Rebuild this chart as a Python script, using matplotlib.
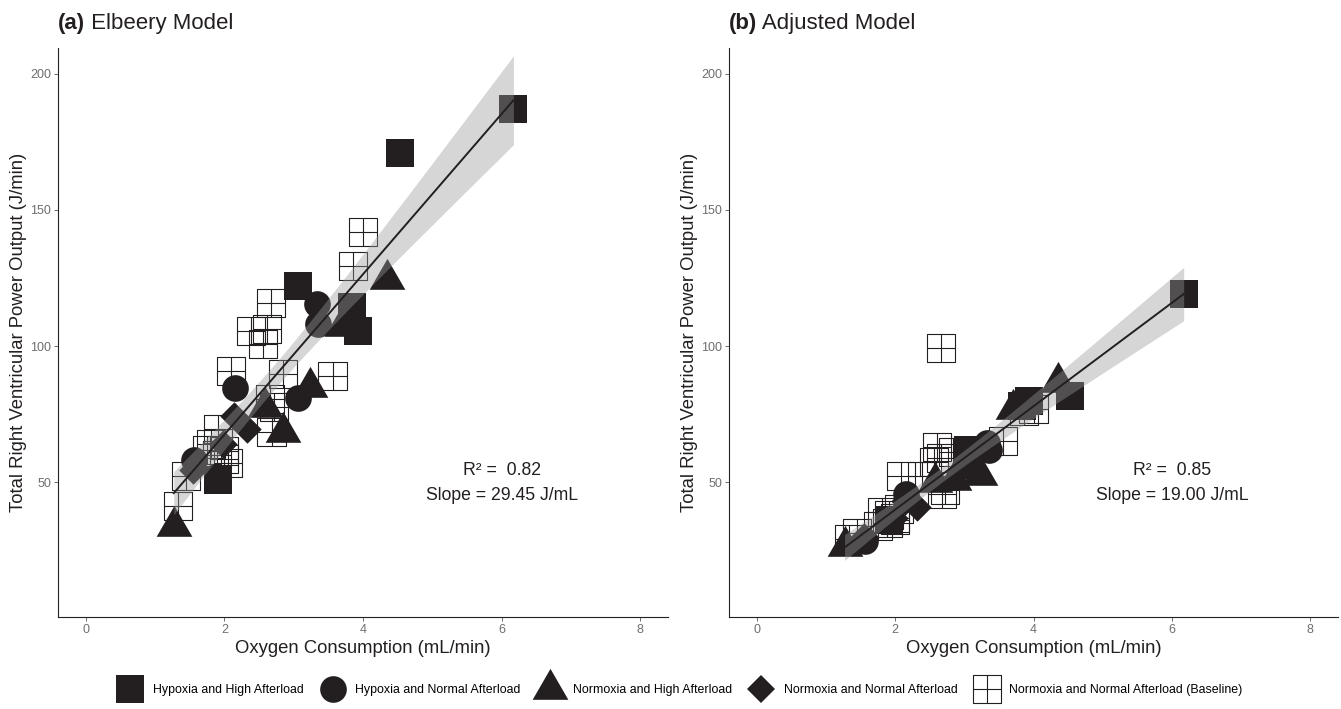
import numpy as np
import matplotlib
matplotlib.use("Agg")
import matplotlib.pyplot as plt
from matplotlib.path import Path
from matplotlib.lines import Line2D

plt.rcParams['font.family'] = ['Liberation Sans', 'DejaVu Sans']

# oxygen consumption (mL/min) and RV power output (J/min) per condition,
# *_elb = Elbeery model, *_adj = adjusted model
hh_x = [6.17, 4.53, 3.06, 3.84, 3.93, 1.91]
hh_elb = [187, 171, 122, 114.5, 105.5, 51]
hh_adj = [119, 81.5, 62, 78, 80, 36]

hn_x = [3.33, 3.35, 2.16, 3.06, 1.56]
hn_elb = [115.5, 108, 84.5, 81, 58]
hn_adj = [64.5, 62, 45.5, 56, 28.5]

nh_x = [4.35, 3.70, 3.23, 2.58, 2.85, 1.27]
nh_elb = [124.5, 107.5, 85, 77.5, 68.5, 34]
nh_adj = [87, 77, 52.5, 50, 51, 26.5]

nn_x = [2.14, 2.32, 1.55, 1.98]
nn_elb = [74.5, 69.5, 54.5, 64]
nn_adj = [43, 41, 30, 37]

bl_x = [4.00, 3.86, 2.67, 2.39, 2.61, 2.56, 2.09, 2.84, 3.56, 2.66, 2.72,
        2.68, 1.91, 1.81, 2.00, 2.00, 1.89, 1.45, 1.33, 2.05, 1.75]
bl_elb = [142, 129.5, 115.7, 105.6, 106.3, 100.7, 90.9, 89.7, 89.1, 80.5, 77.5,
          68.3, 69.5, 64, 61.5, 58.5, 60, 52.3, 41.1, 57, 62]
bl_adj = [77, 76, 99.3, 52.3, 63, 57.5, 52.3, 61, 65.2, 59, 47,
          45.6, 38, 38.9, 37, 36, 35, 31.5, 29, 40, 34]

group_labels = ["Hypoxia and High Afterload", "Hypoxia and Normal Afterload",
                "Normoxia and High Afterload", "Normoxia and Normal Afterload",
                "Normoxia and Normal Afterload (Baseline)"]

# fitted lines
slope_elb, icept_elb, r2_elb = 29.45, 8.6, 0.82
slope_adj, icept_adj, r2_adj = 19.00, 1.9, 0.85

INK = '#231f20'

# equilateral triangle and "square with cross" marker shapes
tri = Path([(-1, -0.5774), (1, -0.5774), (0, 1.1547), (-1, -0.5774)],
           [Path.MOVETO, Path.LINETO, Path.LINETO, Path.CLOSEPOLY])
sqcross = Path([(-1, -1), (1, -1), (1, 1), (-1, 1), (-1, -1),
                (0, -1), (0, 1), (-1, 0), (1, 0)],
               [Path.MOVETO, Path.LINETO, Path.LINETO, Path.LINETO, Path.CLOSEPOLY,
                Path.MOVETO, Path.LINETO, Path.MOVETO, Path.LINETO])

styles = [dict(marker='s', s=388), dict(marker='o', s=369),
          dict(marker=tri, s=882), dict(marker='D', s=210)]


def panel(ax, ys, slope, icept, r2, tag, name):
    xs = [hh_x, hn_x, nh_x, nn_x]
    for x, y, st in zip(xs, ys[:4], styles):
        ax.scatter(x, y, color=INK, linewidths=0, zorder=2, **st)
    ax.scatter(bl_x, ys[4], marker=sqcross, s=408, facecolors='none',
               edgecolors=INK, linewidths=0.8, zorder=3)

    # regression line with 95% band
    allx = np.concatenate([hh_x, hn_x, nh_x, nn_x, bl_x])
    ally = np.concatenate(ys)
    n = len(allx)
    res = ally - (icept + slope * allx)
    s = np.sqrt(np.sum(res ** 2) / (n - 2))
    sxx = np.sum((allx - allx.mean()) ** 2)
    gx = np.linspace(allx.min(), allx.max(), 100)
    gy = icept + slope * gx
    se = s * np.sqrt(1 / n + (gx - allx.mean()) ** 2 / sxx)
    ax.fill_between(gx, gy - 2.02 * se, gy + 2.02 * se, color='#999999',
                    alpha=0.4, linewidth=0, zorder=4)
    ax.plot(gx, gy, color=INK, lw=1.4, zorder=5)

    ax.text(6.0, 54.2, "R² =  %.2f" % r2, ha='center', va='center', fontsize=12.7, color=INK)
    ax.text(6.0, 45.0, "Slope = %.2f J/mL" % slope, ha='center', va='center',
            fontsize=12.7, color=INK)

    ax.set_xlim(-0.4, 8.4)
    ax.set_ylim(0.5, 209.5)
    ax.set_xticks([0, 2, 4, 6, 8])
    ax.set_yticks([50, 100, 150, 200])
    for sp in ['top', 'right']:
        ax.spines[sp].set_visible(False)
    for sp in ['left', 'bottom']:
        ax.spines[sp].set_color('#222222')
        ax.spines[sp].set_linewidth(0.8)
    ax.tick_params(length=3, width=0.6, color='#555555', labelsize=9,
                   labelcolor='#6e6e6e', pad=2)
    ax.set_xlabel("Oxygen Consumption (mL/min)", fontsize=13.3, color=INK, labelpad=3)
    ax.set_ylabel("Total Right Ventricular Power Output (J/min)", fontsize=13.3,
                  color=INK, labelpad=2)

    t = ax.text(0, 1 + 19 / 569, tag, transform=ax.transAxes, fontsize=16,
                fontweight='bold', color=INK, ha='left', va='baseline')
    ax.annotate(" " + name, xy=(1, 0), xycoords=t, fontsize=16, color=INK,
                ha='left', va='bottom')


fig = plt.figure(figsize=(13.41, 7.09), dpi=100)
ax1 = fig.add_axes([58 / 1341, 1 - 617 / 709, 610 / 1341, 569 / 709])
ax2 = fig.add_axes([729 / 1341, 1 - 617 / 709, 609 / 1341, 569 / 709])

panel(ax1, [hh_elb, hn_elb, nh_elb, nn_elb, bl_elb], slope_elb, icept_elb, r2_elb,
      "(a)", "Elbeery Model")
panel(ax2, [hh_adj, hn_adj, nh_adj, nn_adj, bl_adj], slope_adj, icept_adj, r2_adj,
      "(b)", "Adjusted Model")

handles = [Line2D([], [], ls='none', marker='s', markersize=19.7, color=INK, mew=0),
           Line2D([], [], ls='none', marker='o', markersize=19.2, color=INK, mew=0),
           Line2D([], [], ls='none', marker=tri, markersize=29.7, color=INK, mew=0),
           Line2D([], [], ls='none', marker='D', markersize=14.5, color=INK, mew=0),
           Line2D([], [], ls='none', marker=sqcross, markersize=20.2, mfc='none',
                  mec=INK, mew=0.8)]
fig.legend(handles, group_labels, loc='center', bbox_to_anchor=(0.506, 19 / 709),
           ncol=5, frameon=False, fontsize=8.9, handlelength=2.5, handletextpad=0.6,
           columnspacing=1.1, borderaxespad=0)

fig.savefig("out.png", dpi=100)
